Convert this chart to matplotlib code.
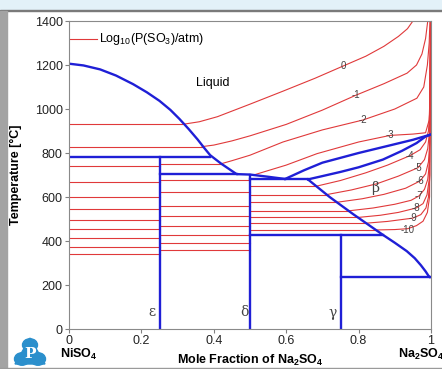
import matplotlib
matplotlib.use("Agg")
from matplotlib import pyplot as plt
from matplotlib.patches import Rectangle, Circle, Polygon

plt.rcParams["font.family"] = ["Liberation Sans", "DejaVu Sans"]
plt.rcParams["mathtext.default"] = "regular"

# phase boundaries, x = mole fraction Na2SO4, T in degC
liq_left_x = [0, 0.04, 0.086, 0.13, 0.177, 0.215, 0.25, 0.28, 0.305, 0.33, 0.355,
              0.375, 0.39, 0.42, 0.463, 0.5, 0.55, 0.597]
liq_left_t = [1206, 1198, 1180, 1152, 1113, 1076, 1037, 996, 955, 910, 862,
              820, 790, 752, 704, 702, 692, 682]
liq_right_x = [0.597, 0.65, 0.70, 0.75, 0.80, 0.85, 0.90, 0.95, 0.985, 1.0]
liq_right_t = [682, 722, 756, 778, 800, 820, 840, 860, 877, 884]
beta_sol_x = [0.66, 0.70, 0.75, 0.80, 0.867, 0.92, 0.96, 0.985, 1.0]
beta_sol_t = [680, 695, 714, 735, 770, 810, 845, 875, 884]
solvus_x = [0.66, 0.72, 0.785, 0.868, 0.90, 0.933, 0.955, 0.972, 0.985, 0.993, 0.997]
solvus_t = [680, 600, 522, 427, 392, 354, 322, 290, 262, 242, 236]
# invariant lines (x start, x end, T) and compounds (x, top T)
invariants = [(0, 0.39, 783), (0.25, 0.463, 704), (0.5, 0.66, 680),
              (0.5, 0.868, 427), (0.75, 0.997, 236)]
compounds = [(0.25, 783), (0.5, 702), (0.75, 427)]

# SO3 isobars, log10 P = 0 ... -10
log_p = [0, -1, -2, -3, -4, -5, -6, -7, -8, -9, -10]
iso_a_t = [930, 829, 742, 669, 600, 545, 496, 453, 412, 374, 343]
iso_a_end = [0.313, 0.368, 0.25, 0.25, 0.25, 0.25, 0.25, 0.25, 0.25, 0.25, 0.25]
iso_b_t = [None, None, 751, 679, 621, 560, 512, 469, 426, 393, 359]
iso_b_end = [None, None, 0.42, 0.5, 0.5, 0.5, 0.5, 0.5, 0.5, 0.5, 0.5]
iso_c_t = [None, None, None, None, 649, 611, 576, 537, 507, 481, 450]
iso_c_end = [None, None, None, None, 0.683, 0.712, 0.74, 0.772, 0.798, 0.821, 0.845]
iso_x = [
    [0.313, 0.36, 0.41, 0.5, 0.591, 0.68, 0.754, 0.82, 0.87, 0.91, 0.935, 0.95],
    [0.368, 0.40, 0.45, 0.5, 0.6, 0.7, 0.793, 0.87, 0.934, 0.96, 0.975, 0.985, 0.991],
    [0.42, 0.45, 0.5, 0.591, 0.7, 0.812, 0.9, 0.961, 0.98, 0.99, 0.995, 0.997],
    [0.51, 0.6, 0.685, 0.8, 0.887, 0.95, 0.985, 0.995, 0.998, 0.999],
    [0.683, 0.75, 0.82, 0.88, 0.942, 0.97, 0.985, 0.993, 0.997, 0.999],
    [0.712, 0.78, 0.85, 0.91, 0.964, 0.982, 0.991, 0.996, 0.999],
    [0.74, 0.81, 0.87, 0.93, 0.97, 0.985, 0.993, 0.997, 0.999],
    [0.772, 0.84, 0.9, 0.945, 0.967, 0.982, 0.991, 0.996, 0.999],
    [0.798, 0.86, 0.91, 0.959, 0.978, 0.989, 0.995, 0.999],
    [0.821, 0.88, 0.95, 0.972, 0.986, 0.993, 0.997, 0.999],
    [0.845, 0.9, 0.936, 0.96, 0.978, 0.99, 0.996, 0.999],
]
iso_t = [
    [930, 942, 965, 1022, 1081, 1140, 1193, 1240, 1285, 1330, 1365, 1400],
    [829, 836, 855, 878, 930, 995, 1063, 1115, 1163, 1200, 1250, 1320, 1400],
    [751, 765, 790, 850, 905, 950, 1000, 1049, 1100, 1200, 1300, 1400],
    [700, 745, 797, 850, 880, 886, 892, 950, 1100, 1400],
    [649, 675, 710, 745, 788, 815, 850, 900, 1000, 1400],
    [611, 632, 660, 695, 733, 770, 820, 900, 1400],
    [576, 592, 612, 640, 673, 705, 760, 850, 1400],
    [537, 550, 567, 585, 605, 635, 680, 760, 1400],
    [507, 517, 530, 550, 570, 610, 680, 1400],
    [481, 489, 504, 520, 550, 600, 700, 1400],
    [450, 452, 456, 470, 490, 530, 600, 1400],
]
label_x = [0.757, 0.793, 0.812, 0.887, 0.942, 0.964, 0.970, 0.967, 0.959, 0.950, 0.936]
label_t = [1196, 1063, 950, 882, 788, 733, 673, 605, 550, 504, 452]

phase_names = ["\u03b5", "\u03b4", "\u03b3", "\u03b2"]
phase_x = [0.229, 0.486, 0.729, 0.845]
phase_t = [75, 75, 75, 641]

RED = "#e0393a"
BLUE = "#1f1fd6"
W, H = 442, 369

fig = plt.figure(figsize=(W / 100, H / 100), dpi=100, facecolor="white")


def fx(px):
    return px / W


def fy(py):
    return 1 - py / H


# page decoration
fig.patches.append(Rectangle((0, fy(10)), 1, 10 / H, transform=fig.transFigure,
                             color="#e3f1f8", zorder=0))
fig.patches.append(Rectangle((0, fy(11)), 1, 1.3 / H, transform=fig.transFigure,
                             color="#7a7a7a", zorder=0))
fig.patches.append(Rectangle((0, 0), 7 / W, fy(11), transform=fig.transFigure,
                             color="#a3a3a3", zorder=0))
fig.patches.append(Rectangle((0, fy(369)), 1, 1.5 / H, transform=fig.transFigure,
                             color="#9a9a9a", zorder=0))

ax = fig.add_axes([fx(69), fy(329), 362 / W, 308 / H])
ax.set_xlim(0, 1)
ax.set_ylim(0, 1400)

for i in range(len(log_p)):
    ax.plot([0, iso_a_end[i]], [iso_a_t[i]] * 2, color=RED, lw=0.8)
    if iso_b_t[i] is not None:
        ax.plot([0.25, iso_b_end[i]], [iso_b_t[i]] * 2, color=RED, lw=0.8)
    if iso_c_t[i] is not None:
        ax.plot([0.5, iso_c_end[i]], [iso_c_t[i]] * 2, color=RED, lw=0.8)
    ax.plot(iso_x[i], iso_t[i], color=RED, lw=0.8)
    ax.text(label_x[i], label_t[i], str(log_p[i]), fontsize=7, color="#444444",
            ha="center", va="center")

ax.plot(liq_left_x, liq_left_t, color=BLUE, lw=1.7)
ax.plot(liq_right_x, liq_right_t, color=BLUE, lw=1.7)
ax.plot(beta_sol_x, beta_sol_t, color=BLUE, lw=1.7)
ax.plot(solvus_x, solvus_t, color=BLUE, lw=1.7)
for x0, x1, t in invariants:
    ax.plot([x0, x1], [t, t], color=BLUE, lw=1.7)
for x, t in compounds:
    ax.plot([x, x], [0, t], color=BLUE, lw=1.7)

for name, x, t in zip(phase_names, phase_x, phase_t):
    ax.text(x, t, name, fontsize=10, family="DejaVu Serif", color="#444444",
            ha="center", va="center")
ax.text(0.398, 1118, "Liquid", fontsize=9, ha="center", va="center")

# legend
ax.plot([0, 0.077], [1319, 1319], color=RED, lw=0.8)
ax.text(0.083, 1319, "Log$_{10}$(P(SO$_3$)/atm)", fontsize=9, va="center")

ax.set_xticks([0, 0.2, 0.4, 0.6, 0.8, 1])
ax.set_xticklabels(["0", "0.2", "0.4", "0.6", "0.8", "1"])
ax.set_yticks(range(0, 1401, 200))
ax.tick_params(direction="out", length=3, width=0.8, color="#808080",
               labelsize=9, pad=1.5, labelcolor="#222222")
for s in ax.spines.values():
    s.set_color("#8a8a8a")
    s.set_linewidth(0.8)

fig.text(fx(16), fy(175), "Temperature [\u00b0C]", rotation=90, fontsize=9,
         fontweight="bold", ha="center", va="center")
fig.text(fx(250), fy(360), "Mole Fraction of Na$_2$SO$_4$", fontsize=9,
         fontweight="bold", ha="center", va="center")
fig.text(fx(60), fy(354), "NiSO$_4$", fontsize=9, fontweight="bold",
         ha="left", va="center")
fig.text(fx(398), fy(354), "Na$_2$SO$_4$", fontsize=9, fontweight="bold",
         ha="left", va="center")

# logo
logo_c = "#2b8fcc"
for cx, cy in [(30, 345), (22, 359), (38, 359)]:
    fig.patches.append(Circle((fx(cx), fy(cy)), 7.5 / W, transform=fig.transFigure,
                              color=logo_c, zorder=2))
fig.patches.append(Polygon([(fx(30), fy(338)), (fx(15), fy(364)), (fx(45), fy(364))],
                           closed=True, transform=fig.transFigure, color=logo_c, zorder=2))
fig.text(fx(30), fy(354), "P", fontsize=11, fontweight="bold", family="DejaVu Serif",
         color="white", ha="center", va="center", zorder=3)

fig.savefig("out.png", dpi=100)
